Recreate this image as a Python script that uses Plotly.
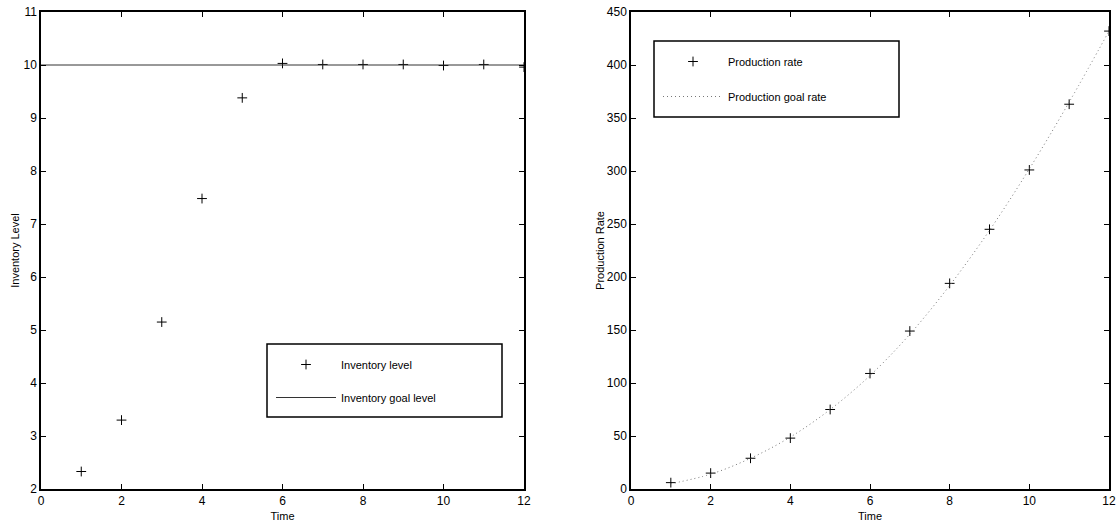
import plotly.graph_objects as go

# ---- data ----
time = [1, 2, 3, 4, 5, 6, 7, 8, 9, 10, 11, 12]
inventory_level = [2.33, 3.30, 5.15, 7.48, 9.38, 10.03, 10.01, 10.01, 10.01, 9.99, 10.01, 9.96]
goal_time = [0, 12]
inventory_goal = [10, 10]
production_rate = [6, 15, 29, 48, 75, 109, 149, 194, 245, 301, 363, 432]
production_goal = [5, 14, 29, 49, 75, 107, 146, 192, 244, 302, 365, 432]

W, H = 1116, 525
L, R, T, B = 41, 1109, 12, 489   # plot-area pixel bounds
FONT = "Liberation Sans"

def px(x):
    return (x - L) / (R - L)

def py(y):
    return (B - y) / (B - T)

fig = go.Figure()

marker = dict(symbol="cross-thin", size=7, line=dict(width=1, color="black"), color="black")

fig.add_trace(go.Scatter(
    x=time, y=inventory_level, mode="markers", name="Inventory level", marker=marker,
    xaxis="x", yaxis="y", legend="legend", legendgroup="a"))
fig.add_trace(go.Scatter(
    x=goal_time, y=inventory_goal, mode="lines", name="Inventory goal level",
    line=dict(color="#333333", width=1),
    xaxis="x", yaxis="y", legend="legend", legendgroup="b"))

fig.add_trace(go.Scatter(
    x=time, y=production_rate, mode="markers", name="Production rate", marker=marker,
    xaxis="x2", yaxis="y2", legend="legend2", legendgroup="c"))
fig.add_trace(go.Scatter(
    x=time, y=production_goal, mode="lines", name="Production goal rate",
    line=dict(color="#777777", width=1, dash="1px,3px", shape="spline"),
    xaxis="x2", yaxis="y2", legend="legend2", legendgroup="d"))

axis_common = dict(
    showgrid=False, zeroline=False, showline=True, linecolor="black", linewidth=1.5,
    mirror="ticks", ticks="inside", ticklen=5, tickwidth=1, tickcolor="black",
    tickfont=dict(family=FONT, size=12, color="black"), automargin=False,
)
title_font = dict(family=FONT, size=11, color="black")

fig.update_layout(
    width=W, height=H,
    margin=dict(l=L, r=W - R, t=T, b=H - B, pad=0),
    paper_bgcolor="white", plot_bgcolor="white",
    font=dict(family=FONT, size=11, color="black"),
    xaxis=dict(domain=[0, px(524)], range=[0, 12], dtick=2, anchor="y",
               title=dict(text="Time", standoff=5, font=title_font), **axis_common),
    yaxis=dict(domain=[0, 1], range=[2, 11], dtick=1, anchor="x",
               title=dict(text="Inventory Level", standoff=2, font=title_font), **axis_common),
    xaxis2=dict(domain=[px(631), 1], range=[0, 12], dtick=2, anchor="y2",
                title=dict(text="Time", standoff=5, font=title_font), **axis_common),
    yaxis2=dict(domain=[0, 1], range=[0, 450], dtick=50, anchor="x2",
                title=dict(text="Production Rate", standoff=0, font=title_font), **axis_common),
    legend=dict(x=px(271), y=py(350), xanchor="left", yanchor="top", bgcolor="rgba(0,0,0,0)",
                borderwidth=0, itemwidth=60, tracegroupgap=14, traceorder="grouped",
                font=dict(family=FONT, size=11, color="black")),
    legend2=dict(x=px(658), y=py(47), xanchor="left", yanchor="top", bgcolor="rgba(0,0,0,0)",
                 borderwidth=0, itemwidth=60, tracegroupgap=16, traceorder="grouped",
                 font=dict(family=FONT, size=11, color="black")),
    shapes=[
        dict(type="rect", xref="paper", yref="paper", x0=px(267), x1=px(502), y0=py(417), y1=py(344),
             line=dict(color="black", width=1.5), fillcolor="white", layer="above"),
        dict(type="rect", xref="paper", yref="paper", x0=px(654), x1=px(899), y0=py(117), y1=py(41),
             line=dict(color="black", width=1.5), fillcolor="white", layer="above"),
    ],
)

fig.write_html("out.html", config={"displayModeBar": False},
               post_script="document.body.style.margin='0';")
